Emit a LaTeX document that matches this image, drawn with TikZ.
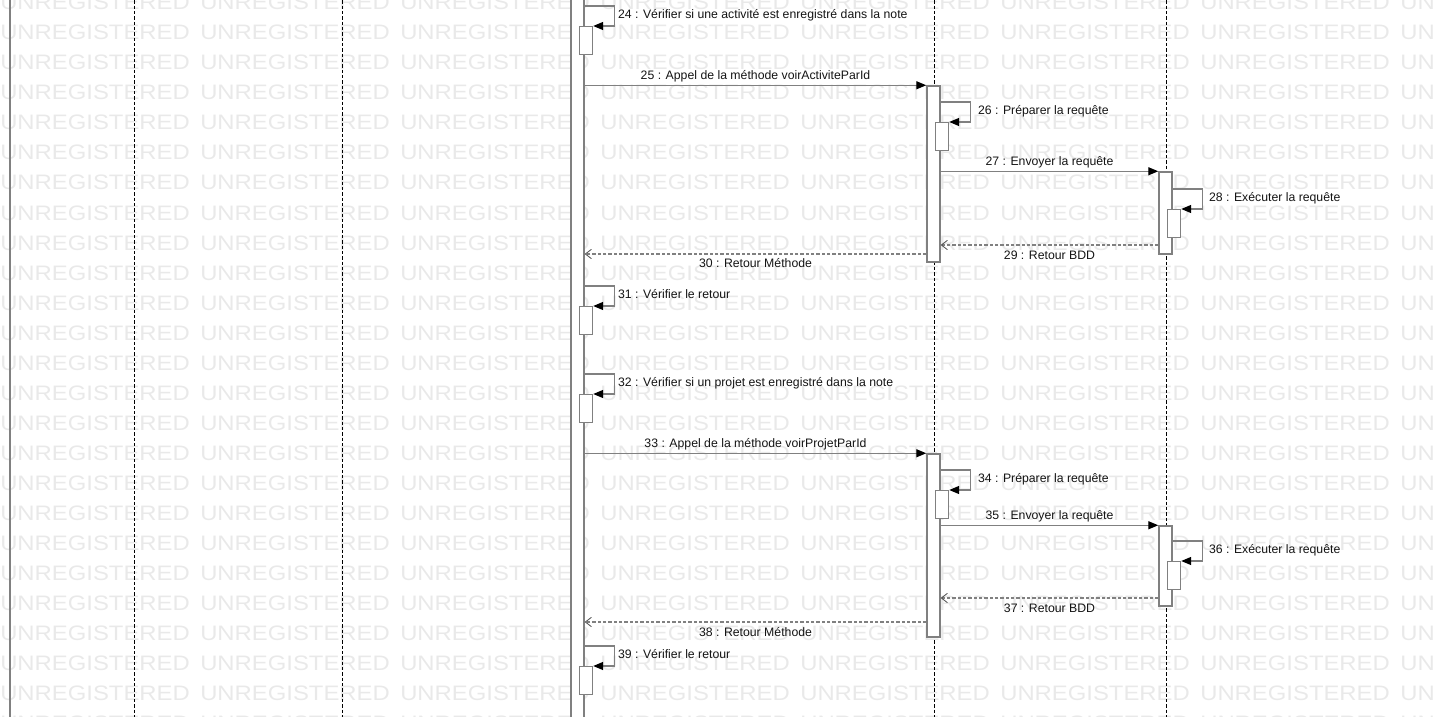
\documentclass[tikz,border=0pt]{standalone}
\usepackage{fontspec}
\setmainfont{Liberation Sans}
\newfontfamily\wmfont[FakeStretch=1.14]{Liberation Sans}
\usetikzlibrary{arrows.meta,fit}

\definecolor{linegray}{RGB}{128,128,128}
\definecolor{wmgray}{RGB}{233,233,233}
\definecolor{txt}{RGB}{20,20,20}

\tikzset{
  lifeline/.style={black, line width=0.7pt, dash pattern=on 2.5pt off 1.5pt},
  bar/.style={draw=linegray, fill=white, line width=1.1pt, inner sep=0pt},
  selfbox/.style={draw=linegray, fill=white, line width=1.1pt, inner sep=0pt, minimum width=9.75pt, minimum height=21pt},
  call/.style={draw=linegray, line width=1pt, -{Triangle[length=7.5pt,width=6pt,color=black]}},
  ret/.style={draw=linegray, line width=1pt, dash pattern=on 2.5pt off 1.5pt, -{Straight Barb[length=4.5pt,width=7pt,color=black!70,line width=0.6pt]}},
  lbl/.style={text=txt, font=\fontsize{9.2}{10}\selectfont, inner sep=0pt},
  wm/.style={text=wmgray, font=\wmfont\fontsize{15.7}{16}\selectfont, inner sep=0pt, anchor=base west}
}

% self message: name, bar, y of loop, label offset, text
\newcommand{\selfcall}[5]{%
  \coordinate (#1) at (#2.east |- 0,#3);
  \path (#1) ++(-6,20) node[selfbox, anchor=north west] (#1box) {};
  \draw[call] (#1) -- ++(30,0) |- (#1box.north east);
  \path (#1) ++(#4,12.5) node[lbl, anchor=base west] (#1lbl) {#5};
}

\begin{document}
\begin{tikzpicture}[x=0.75pt, y=-0.75pt]
\useasboundingbox (0,0) rectangle (1436,717);
\clip (0,0) rectangle (1436,717);

% watermark
\foreach \r in {0,...,24}
  \foreach \c in {0,...,7}
    \node[wm] (wm-\r-\c) at (200*\c, 10+30*\r) {UNREGISTERED};

% lifelines
\draw[linegray, line width=2pt] (10,-5) -- (10,725);
\draw[lifeline] (134,-5) -- (134,725);
\draw[lifeline] (342,-5) -- (342,725);
\draw[lifeline] (934,-5) -- (934,725);
\draw[lifeline] (1166,-5) -- (1166,725);

% activations
\node[bar, fit={(571,-5) (584,725)}] (main) {};
\node[bar, fit={(927,86) (940,262)}] (actA) {};
\node[bar, fit={(1159,172) (1172,254)}] (dbA) {};
\node[bar, fit={(927,454) (940,637)}] (actB) {};
\node[bar, fit={(1159,526) (1172,606)}] (dbB) {};

\selfcall{s24}{main}{6}{33}{24 : Vérifier si une activité est enregistré dans la note}

\draw[call] (main.east |- actA.north) -- node[lbl, anchor=base, yshift=4.5pt] {25 : Appel de la méthode voirActiviteParId} (actA.north west);

\selfcall{s26}{actA}{102}{37}{26 : Préparer la requête}

\draw[call] (actA.east |- dbA.north) -- node[lbl, anchor=base, yshift=4.5pt] {27 : Envoyer la requête} (dbA.north west);

\selfcall{s28}{dbA}{189}{36}{28 : Exécuter la requête}

\draw[ret] (dbA.west |- 0,245) -- node[lbl, anchor=base, yshift=-10.5pt] {29 : Retour BDD} (actA.east |- 0,245);
\draw[ret] (actA.west |- 0,254) -- node[lbl, anchor=base, yshift=-10pt] {30 : Retour Méthode} (main.east |- 0,254);

\selfcall{s31}{main}{286}{33}{31 : Vérifier le retour}
\selfcall{s32}{main}{374}{33}{32 : Vérifier si un projet est enregistré dans la note}

\draw[call] (main.east |- actB.north) -- node[lbl, anchor=base, yshift=4.5pt] {33 : Appel de la méthode voirProjetParId} (actB.north west);

\selfcall{s34}{actB}{470}{37}{34 : Préparer la requête}

\draw[call] (actB.east |- dbB.north) -- node[lbl, anchor=base, yshift=4.5pt] {35 : Envoyer la requête} (dbB.north west);

\selfcall{s36}{dbB}{541}{36}{36 : Exécuter la requête}

\draw[ret] (dbB.west |- 0,598) -- node[lbl, anchor=base, yshift=-10.5pt] {37 : Retour BDD} (actB.east |- 0,598);
\draw[ret] (actB.west |- 0,622) -- node[lbl, anchor=base, yshift=-10.5pt] {38 : Retour Méthode} (main.east |- 0,622);

\selfcall{s39}{main}{646}{33}{39 : Vérifier le retour}
\end{tikzpicture}
\end{document}
